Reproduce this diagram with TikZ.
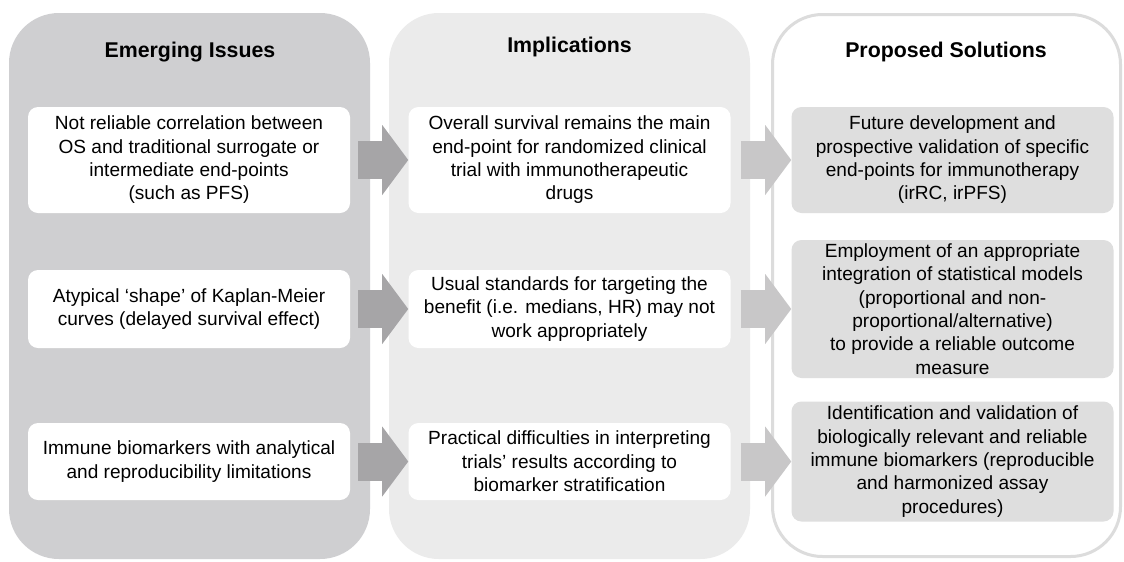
\documentclass[tikz,border=0pt]{standalone}
\usepackage{fontspec}
\setmainfont{Liberation Sans}
\usetikzlibrary{arrows.meta}
\definecolor{207_207_209}{RGB}{207, 207, 209}
\definecolor{235_235_235}{RGB}{235, 235, 235}
\definecolor{220_220_220}{RGB}{220, 220, 220}
\definecolor{222_222_222}{RGB}{222, 222, 222}
\definecolor{166_165_167}{RGB}{166, 165, 167}
\definecolor{200_199_200}{RGB}{200, 199, 200}
\definecolor{black}{RGB}{0, 0, 0}
\definecolor{white}{RGB}{255, 255, 255}

\begin{document}
\begin{tikzpicture}[
        x=0.75pt, y=-0.75pt,
        panel/.style={
            rounded corners=37.5pt,
            minimum width=270.75pt,
            minimum height=409.5pt,
            inner sep=0pt
        },
        heading/.style={
            anchor=base,
            font=\fontsize{16pt}{19pt}\selectfont\bfseries
        },
        box/.style={
            rounded corners=7.5pt,
            minimum width=241.5pt,
            inner sep=0pt,
            align=center,
            text=black,
            font=\fontsize{14.3pt}{17.5pt}\selectfont
        },
        fat arrow/.style={
            line width=28.5pt,
            -{Triangle[width=52.5pt, length=19.5pt, line width=0pt]}
        }
    ]

        \path[fill=white] (0,0) rectangle (1124,561);
        \useasboundingbox (0,0) rectangle (1124,561);

        % three columns
        \node[panel, fill=207_207_209] (issues) at (189.5,286) {};
        \node[panel, fill=235_235_235] (implications) at (569.5,286) {};
        \node[panel, draw=220_220_220, line width=2.25pt, fill=white,
              minimum width=261pt, minimum height=406.5pt] (solutions) at (946.5,285.5) {};

        \node[heading] (issues title) at (190,57.5) {Emerging Issues};
        \node[heading] (implications title) at (569.5,52.5) {Implications};
        \node[heading] (solutions title) at (946,57) {Proposed Solutions};

        % emerging issues
        \node[box, fill=white, minimum height=79.5pt] (issue1) at (189,160)
            {Not reliable correlation between\\OS and traditional surrogate or\\intermediate end-points\\(such as PFS)};
        \node[box, fill=white, minimum height=58.5pt] (issue2) at (189,309)
            {Atypical ‘shape’ of Kaplan-Meier\\curves (delayed survival effect)};
        \node[box, fill=white, minimum height=57.75pt] (issue3) at (189,461.5)
            {Immune biomarkers with analytical\\and reproducibility limitations};

        % implications
        \node[box, fill=white, minimum height=79.5pt] (impl1) at (569.5,160)
            {Overall survival remains the main\\end-point for randomized clinical\\trial with immunotherapeutic\\drugs};
        \node[box, fill=white, minimum height=58.5pt] (impl2) at (569.5,309)
            {Usual standards for targeting the\\benefit (i.e. medians, HR) may not\\work appropriately};
        \node[box, fill=white, minimum height=57.75pt] (impl3) at (569.5,461.5)
            {Practical difficulties in interpreting\\trials’ results according to\\biomarker stratification};

        % proposed solutions
        \node[box, fill=222_222_222, minimum height=79.5pt] (sol1) at (952.5,160)
            {Future development and\\prospective validation of specific\\end-points for immunotherapy\\(irRC, irPFS)};
        \node[box, fill=222_222_222, minimum height=103.5pt] (sol2) at (952.5,309)
            {Employment of an appropriate\\integration of statistical models\\(proportional and non-\\proportional/alternative)\\to provide a reliable outcome\\measure};
        \node[box, fill=222_222_222, minimum height=90pt] (sol3) at (952.5,461.5)
            {Identification and validation of\\biologically relevant and reliable\\immune biomarkers (reproducible\\and harmonized assay\\procedures)};

        % arrows
        \foreach \row in {1,2,3} {
            \draw[fat arrow, 166_165_167] ([xshift=6pt]issue\row.east) -- (impl\row.west);
            \draw[fat arrow, 200_199_200] ([xshift=7.5pt]impl\row.east) -- (sol\row.west);
        }
    \end{tikzpicture}
\end{document}
